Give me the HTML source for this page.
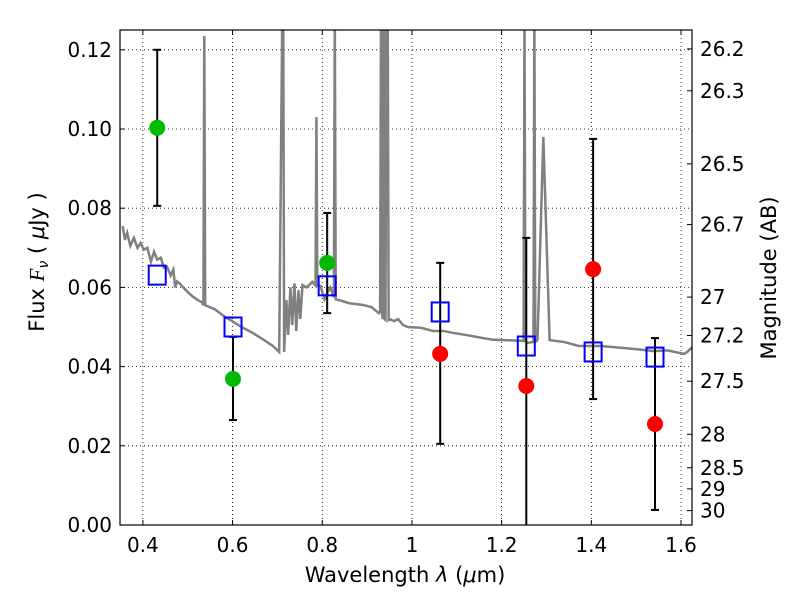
<!DOCTYPE html>
<html><head><meta charset="utf-8"><style>
body{margin:0;background:#fff;}
svg text{font-family:"DejaVu Sans","Liberation Sans",sans-serif;font-size:20px;fill:#000;}
</style></head><body>
<svg id="c" width="800" height="600"></svg>
<script>
const specLam=[0.355,0.360,0.365,0.372,0.380,0.388,0.395,0.402,0.410,0.418,0.425,0.432,0.440,0.447,0.454,0.462,0.468,0.472,0.476,0.482,0.490,0.500,0.510,0.520,0.532,0.535,0.537,0.539,0.543,0.560,0.580,0.599,0.620,0.645,0.666,0.690,0.704,0.711,0.713,0.715,0.720,0.724,0.729,0.733,0.738,0.742,0.747,0.751,0.756,0.765,0.778,0.785,0.787,0.789,0.796,0.805,0.812,0.818,0.826,0.828,0.830,0.837,0.860,0.890,0.910,0.926,0.929,0.931,0.933,0.935,0.937,0.939,0.941,0.943,0.946,0.948,0.950,0.960,0.969,0.980,0.991,1.020,1.047,1.070,1.092,1.120,1.159,1.180,1.204,1.246,1.249,1.251,1.253,1.257,1.271,1.273,1.275,1.280,1.293,1.307,1.340,1.372,1.420,1.472,1.500,1.539,1.570,1.607,1.615,1.6245];
const specFlux=[0.0755,0.0720,0.0738,0.0705,0.0725,0.0700,0.0712,0.0695,0.0700,0.0665,0.0690,0.0670,0.0675,0.0650,0.0652,0.0630,0.0645,0.0600,0.0615,0.0610,0.0600,0.0588,0.0578,0.0570,0.0562,0.0555,0.1235,0.0555,0.0553,0.0545,0.0528,0.0515,0.0500,0.0485,0.0470,0.0452,0.0437,0.13,0.13,0.0437,0.0568,0.0480,0.0600,0.0505,0.0610,0.0490,0.0593,0.0520,0.0606,0.0600,0.0614,0.0605,0.103,0.0605,0.0604,0.0570,0.0588,0.0600,0.0575,0.13,0.0570,0.0568,0.0560,0.0556,0.0550,0.0535,0.0540,0.13,0.0535,0.0520,0.13,0.0520,0.0518,0.13,0.13,0.0518,0.0520,0.0515,0.0520,0.0505,0.0500,0.0498,0.0490,0.0490,0.0485,0.0480,0.0472,0.0468,0.0467,0.0465,0.0465,0.13,0.0465,0.0460,0.0462,0.13,0.0462,0.0467,0.0980,0.0467,0.0462,0.0452,0.0452,0.0447,0.0444,0.0439,0.0441,0.0432,0.0438,0.0449];
const obsLam=[0.432,0.601,0.811,1.063,1.255,1.404,1.542];
const obsFlux=[0.1003,0.0369,0.0662,0.0432,0.0351,0.0646,0.0255];
const errHi=[0.120,0.0475,0.0788,0.0662,0.0725,0.0975,0.0472];
const errLo=[0.0806,0.0265,0.0535,0.0205,-0.005,0.0318,0.0038];
const obsColor=['#00bb00','#00bb00','#00bb00','#ff0000','#ff0000','#ff0000','#ff0000'];
const modelFlux=[0.0631,0.0500,0.0604,0.0538,0.0452,0.0437,0.0424];
const xTicks=[0.4,0.6,0.8,1.0,1.2,1.4,1.6];
const xTickLabels=['0.4','0.6','0.8','1','1.2','1.4','1.6'];
const yTicks=[0,0.02,0.04,0.06,0.08,0.10,0.12];
const yTickLabels=['0.00','0.02','0.04','0.06','0.08','0.10','0.12'];
const magTicks=[26.2,26.3,26.5,26.7,27,27.2,27.5,28,28.5,29,30];
const magLabels=['26.2','26.3','26.5','26.7','27','27.2','27.5','28','28.5','29','30'];

const L=120,R=692,T=30,B=525,x0=0.349,x1=1.6245,y0=0,y1=0.125;
const X=v=>L+(v-x0)/(x1-x0)*(R-L);
const Y=v=>B-(v-y0)/(y1-y0)*(B-T);
const NS='http://www.w3.org/2000/svg';
const svg=document.getElementById('c');
function mk(tag,at,parent){const e=document.createElementNS(NS,tag);for(const k in at)e.setAttribute(k,at[k]);(parent||svg).appendChild(e);return e;}
const defs=mk('defs',{});const cp=mk('clipPath',{id:'clip'},defs);mk('rect',{x:L,y:T,width:R-L,height:B-T},cp);
xTicks.forEach((t,i)=>{
 const g=mk('line',{x1:X(t),x2:X(t),y1:T,y2:B,stroke:'#000','stroke-width':0.8,'stroke-dasharray':'1,3'});
 
 
 mk('line',{x1:X(t),x2:X(t),y1:B,y2:B-5,stroke:'#000'});mk('line',{x1:X(t),x2:X(t),y1:T,y2:T+5,stroke:'#000'});
 const tx=mk('text',{x:X(t),y:B+27,'text-anchor':'middle'});tx.textContent=xTickLabels[i];
 
 
});
yTicks.forEach((t,i)=>{
 const g=mk('line',{x1:L,x2:R,y1:Y(t),y2:Y(t),stroke:'#000','stroke-width':0.8,'stroke-dasharray':'1,3'});
 
 
 mk('line',{x1:L,x2:L+5,y1:Y(t),y2:Y(t),stroke:'#000'});
 const tx=mk('text',{x:L-8,y:Y(t)+7,'text-anchor':'end'});tx.textContent=yTickLabels[i];
 
 
});
magTicks.forEach((m,i)=>{
 const f=Math.pow(10,(23.9-m)/2.5);
 mk('line',{x1:R-5,x2:R,y1:Y(f),y2:Y(f),stroke:'#000'});
 const tx=mk('text',{x:R+8,y:Y(f)+7});tx.textContent=magLabels[i];
 
 
});
const sp=mk('polyline',{points:specLam.map((l,i)=>X(l)+','+Y(specFlux[i])).join(' '),fill:'none',stroke:'#808080','stroke-width':2.5,'clip-path':'url(#clip)'});


obsLam.forEach((l,i)=>{
 const x=X(l);
 const g=mk('g',{'clip-path':'url(#clip)'});
 
 
 mk('line',{x1:x,x2:x,y1:Y(errHi[i]),y2:Y(errLo[i]),stroke:'#000','stroke-width':2},g);
 mk('line',{x1:x-4,x2:x+4,y1:Y(errHi[i]),y2:Y(errHi[i]),stroke:'#000','stroke-width':2},g);
 mk('line',{x1:x-4,x2:x+4,y1:Y(errLo[i]),y2:Y(errLo[i]),stroke:'#000','stroke-width':2},g);
 const c=mk('circle',{cx:x,cy:Y(obsFlux[i]),r:8,fill:obsColor[i]});
 
 
 const s=mk('rect',{x:x-8.5,y:Y(modelFlux[i])-9.5,width:17,height:19,fill:'none',stroke:'#0000ff','stroke-width':2});
 
 
});
const fr=mk('rect',{x:L,y:T,width:R-L,height:B-T,fill:'none',stroke:'#000','stroke-width':1.2});


</script>
<svg width="800" height="600" style="position:absolute;left:0;top:0">
<text x="405" y="582" text-anchor="middle" style="font-family:'DejaVu Sans',sans-serif;font-size:21px">Wavelength  <tspan font-style="italic">λ</tspan> (<tspan font-style="italic">μ</tspan>m)</text>
<text transform="translate(44,262) rotate(-90)" text-anchor="middle" style="font-family:'DejaVu Sans',sans-serif;font-size:21px">Flux  <tspan font-family="Liberation Serif" font-style="italic">F</tspan><tspan font-size="14" font-style="italic" dy="4">ν</tspan><tspan dy="-4">  (  </tspan><tspan font-style="italic">μ</tspan>Jy )</text>
<text transform="translate(776,278) rotate(-90)" text-anchor="middle" style="font-family:'DejaVu Sans',sans-serif;font-size:21px">Magnitude (AB)</text>
</svg>
</body></html>
